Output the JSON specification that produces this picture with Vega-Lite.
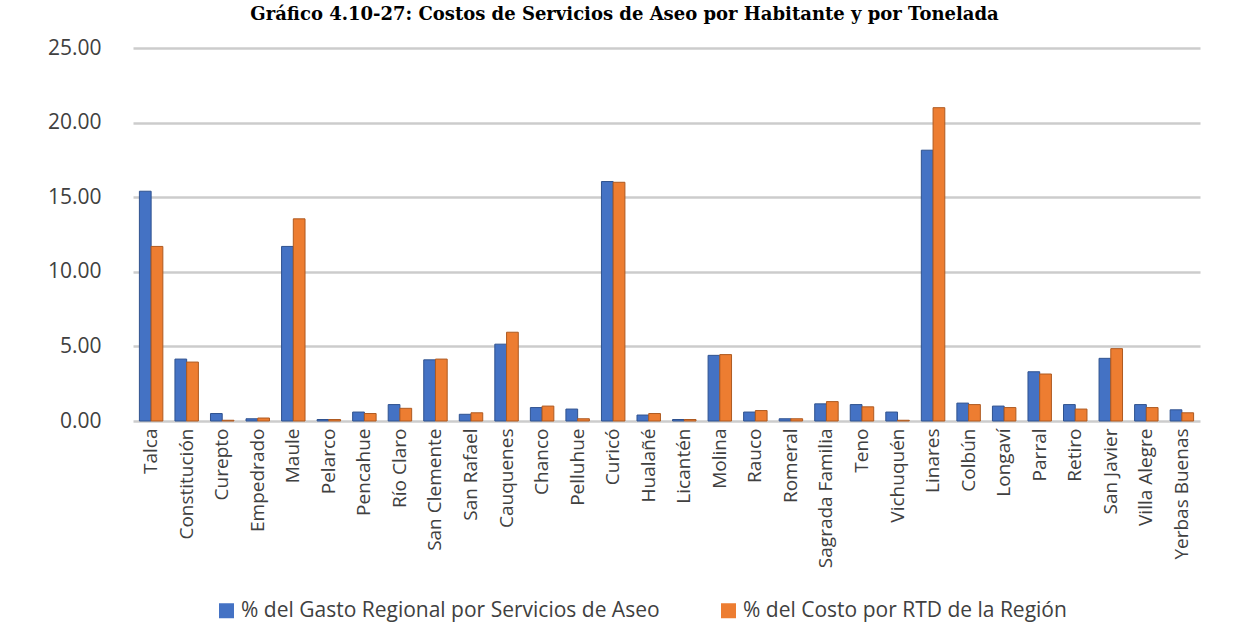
{
  "$schema": "https://vega.github.io/schema/vega-lite/v6.json",
  "width": 1067,
  "height": 373,
  "autosize": {"type": "none"},
  "padding": {"left": 133, "top": 48, "right": 47, "bottom": 218},
  "background": "white",
  "title": {
    "text": "Gráfico 4.10-27: Costos de Servicios de Aseo por Habitante y por Tonelada",
    "font": "DejaVu Serif",
    "fontSize": 18,
    "fontWeight": "bold",
    "color": "#000000",
    "anchor": "middle",
    "dx": -42,
    "offset": -5,
    "baseline": "bottom"
  },
  "data": {
    "values": [
      {"comuna": "Talca", "serie": "% del Gasto Regional por Servicios de Aseo", "valor": 15.4},
      {"comuna": "Talca", "serie": "% del Costo por RTD de la Región", "valor": 11.7},
      {"comuna": "Constitución", "serie": "% del Gasto Regional por Servicios de Aseo", "valor": 4.15},
      {"comuna": "Constitución", "serie": "% del Costo por RTD de la Región", "valor": 3.95},
      {"comuna": "Curepto", "serie": "% del Gasto Regional por Servicios de Aseo", "valor": 0.5},
      {"comuna": "Curepto", "serie": "% del Costo por RTD de la Región", "valor": 0.05},
      {"comuna": "Empedrado", "serie": "% del Gasto Regional por Servicios de Aseo", "valor": 0.15},
      {"comuna": "Empedrado", "serie": "% del Costo por RTD de la Región", "valor": 0.2},
      {"comuna": "Maule", "serie": "% del Gasto Regional por Servicios de Aseo", "valor": 11.7},
      {"comuna": "Maule", "serie": "% del Costo por RTD de la Región", "valor": 13.55},
      {"comuna": "Pelarco", "serie": "% del Gasto Regional por Servicios de Aseo", "valor": 0.1},
      {"comuna": "Pelarco", "serie": "% del Costo por RTD de la Región", "valor": 0.1},
      {"comuna": "Pencahue", "serie": "% del Gasto Regional por Servicios de Aseo", "valor": 0.6},
      {"comuna": "Pencahue", "serie": "% del Costo por RTD de la Región", "valor": 0.5},
      {"comuna": "Río Claro", "serie": "% del Gasto Regional por Servicios de Aseo", "valor": 1.1},
      {"comuna": "Río Claro", "serie": "% del Costo por RTD de la Región", "valor": 0.85},
      {"comuna": "San Clemente", "serie": "% del Gasto Regional por Servicios de Aseo", "valor": 4.1},
      {"comuna": "San Clemente", "serie": "% del Costo por RTD de la Región", "valor": 4.15},
      {"comuna": "San Rafael", "serie": "% del Gasto Regional por Servicios de Aseo", "valor": 0.45},
      {"comuna": "San Rafael", "serie": "% del Costo por RTD de la Región", "valor": 0.55},
      {"comuna": "Cauquenes", "serie": "% del Gasto Regional por Servicios de Aseo", "valor": 5.15},
      {"comuna": "Cauquenes", "serie": "% del Costo por RTD de la Región", "valor": 5.95},
      {"comuna": "Chanco", "serie": "% del Gasto Regional por Servicios de Aseo", "valor": 0.9},
      {"comuna": "Chanco", "serie": "% del Costo por RTD de la Región", "valor": 1.0},
      {"comuna": "Pelluhue", "serie": "% del Gasto Regional por Servicios de Aseo", "valor": 0.8},
      {"comuna": "Pelluhue", "serie": "% del Costo por RTD de la Región", "valor": 0.15},
      {"comuna": "Curicó", "serie": "% del Gasto Regional por Servicios de Aseo", "valor": 16.05},
      {"comuna": "Curicó", "serie": "% del Costo por RTD de la Región", "valor": 16.0},
      {"comuna": "Hualañé", "serie": "% del Gasto Regional por Servicios de Aseo", "valor": 0.4},
      {"comuna": "Hualañé", "serie": "% del Costo por RTD de la Región", "valor": 0.5},
      {"comuna": "Licantén", "serie": "% del Gasto Regional por Servicios de Aseo", "valor": 0.1},
      {"comuna": "Licantén", "serie": "% del Costo por RTD de la Región", "valor": 0.1},
      {"comuna": "Molina", "serie": "% del Gasto Regional por Servicios de Aseo", "valor": 4.4},
      {"comuna": "Molina", "serie": "% del Costo por RTD de la Región", "valor": 4.45},
      {"comuna": "Rauco", "serie": "% del Gasto Regional por Servicios de Aseo", "valor": 0.6},
      {"comuna": "Rauco", "serie": "% del Costo por RTD de la Región", "valor": 0.7},
      {"comuna": "Romeral", "serie": "% del Gasto Regional por Servicios de Aseo", "valor": 0.15},
      {"comuna": "Romeral", "serie": "% del Costo por RTD de la Región", "valor": 0.15},
      {"comuna": "Sagrada Familia", "serie": "% del Gasto Regional por Servicios de Aseo", "valor": 1.15},
      {"comuna": "Sagrada Familia", "serie": "% del Costo por RTD de la Región", "valor": 1.3},
      {"comuna": "Teno", "serie": "% del Gasto Regional por Servicios de Aseo", "valor": 1.1},
      {"comuna": "Teno", "serie": "% del Costo por RTD de la Región", "valor": 0.95},
      {"comuna": "Vichuquén", "serie": "% del Gasto Regional por Servicios de Aseo", "valor": 0.6},
      {"comuna": "Vichuquén", "serie": "% del Costo por RTD de la Región", "valor": 0.05},
      {"comuna": "Linares", "serie": "% del Gasto Regional por Servicios de Aseo", "valor": 18.15},
      {"comuna": "Linares", "serie": "% del Costo por RTD de la Región", "valor": 21.0},
      {"comuna": "Colbún", "serie": "% del Gasto Regional por Servicios de Aseo", "valor": 1.2},
      {"comuna": "Colbún", "serie": "% del Costo por RTD de la Región", "valor": 1.1},
      {"comuna": "Longaví", "serie": "% del Gasto Regional por Servicios de Aseo", "valor": 1.0},
      {"comuna": "Longaví", "serie": "% del Costo por RTD de la Región", "valor": 0.9},
      {"comuna": "Parral", "serie": "% del Gasto Regional por Servicios de Aseo", "valor": 3.3},
      {"comuna": "Parral", "serie": "% del Costo por RTD de la Región", "valor": 3.15},
      {"comuna": "Retiro", "serie": "% del Gasto Regional por Servicios de Aseo", "valor": 1.1},
      {"comuna": "Retiro", "serie": "% del Costo por RTD de la Región", "valor": 0.8},
      {"comuna": "San Javier", "serie": "% del Gasto Regional por Servicios de Aseo", "valor": 4.2},
      {"comuna": "San Javier", "serie": "% del Costo por RTD de la Región", "valor": 4.85},
      {"comuna": "Villa Alegre", "serie": "% del Gasto Regional por Servicios de Aseo", "valor": 1.1},
      {"comuna": "Villa Alegre", "serie": "% del Costo por RTD de la Región", "valor": 0.9},
      {"comuna": "Yerbas Buenas", "serie": "% del Gasto Regional por Servicios de Aseo", "valor": 0.75},
      {"comuna": "Yerbas Buenas", "serie": "% del Costo por RTD de la Región", "valor": 0.55}
    ]
  },
  "mark": {"type": "bar", "strokeWidth": 1},
  "encoding": {
    "x": {
      "field": "comuna",
      "type": "nominal",
      "sort": null,
      "scale": {"paddingInner": 0.34, "paddingOuter": 0.18},
      "axis": {
        "title": null,
        "labelAngle": -90,
        "labelFont": "Open Sans",
        "labelFontSize": 19,
        "labelColor": "#404040",
        "labelPadding": 7,
        "labelLimit": 0,
        "ticks": false,
        "domain": false,
        "grid": false
      }
    },
    "xOffset": {"field": "serie", "type": "nominal", "sort": ["% del Gasto Regional por Servicios de Aseo", "% del Costo por RTD de la Región"]},
    "y": {
      "field": "valor",
      "type": "quantitative",
      "scale": {"domain": [0, 25], "nice": false},
      "axis": {
        "title": null,
        "values": [0, 5, 10, 15, 20, 25],
        "format": ".2f",
        "labelFont": "Open Sans",
        "labelFontSize": 21,
        "labelColor": "#404040",
        "labelPadding": 32,
        "ticks": false,
        "domain": false,
        "grid": true,
        "gridColor": "#cccccc",
        "gridWidth": 2.5
      }
    },
    "color": {
      "field": "serie",
      "type": "nominal",
      "sort": ["% del Gasto Regional por Servicios de Aseo", "% del Costo por RTD de la Región"],
      "scale": {"range": ["#4472C4", "#ED7D31"]},
      "legend": {
        "title": null,
        "orient": "none",
        "legendX": 83,
        "legendY": 552,
        "direction": "horizontal",
        "symbolType": "square",
        "symbolSize": 225,
        "symbolStrokeWidth": 0,
        "labelFont": "Open Sans",
        "labelFontSize": 21,
        "labelColor": "#404040",
        "labelLimit": 0,
        "labelOffset": 4,
        "columnPadding": 58
      }
    },
    "stroke": {
      "field": "serie",
      "type": "nominal",
      "sort": ["% del Gasto Regional por Servicios de Aseo", "% del Costo por RTD de la Región"],
      "scale": {"range": ["#2F528F", "#AE5A21"]},
      "legend": null
    }
  },
  "config": {"view": {"stroke": null}}
}
